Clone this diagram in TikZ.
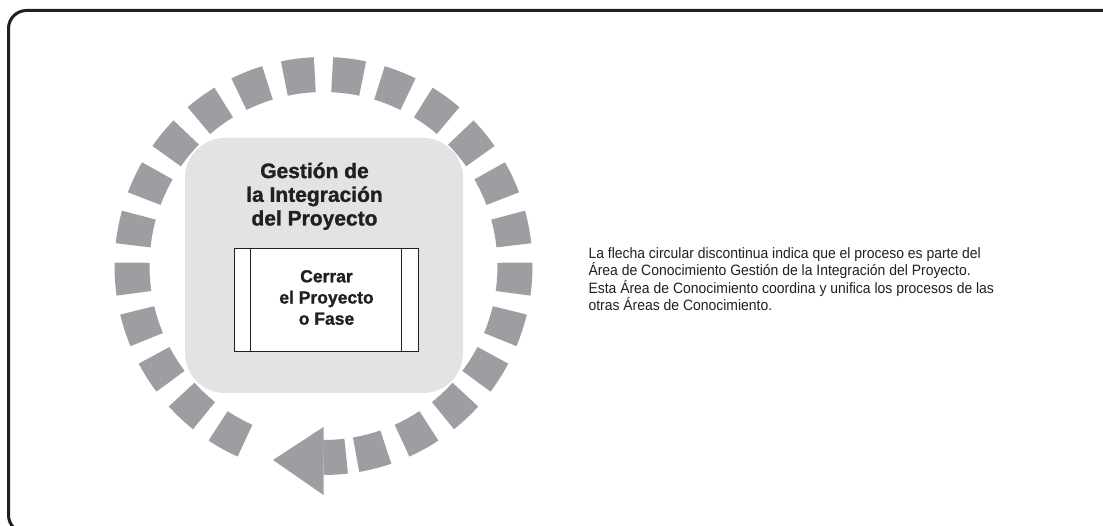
\documentclass[tikz,border=0pt]{standalone}
\usepackage{fontspec}
\setmainfont{Liberation Sans}
\newfontfamily\notefont{Liberation Sans}[FakeStretch=0.93]
\newfontfamily\headfont{Liberation Sans}[BoldFeatures={FakeBold=1.2}]
\usetikzlibrary{calc}
\definecolor{ink}{HTML}{231F20}
\definecolor{dashgray}{HTML}{9D9EA1}
\definecolor{boxgray}{HTML}{E2E3E4}
\tikzset{
  frameline/.style={draw=ink, line width=3pt, rounded corners=18pt},
  ringdash/.style={draw=dashgray, line width=35pt, line cap=butt},
  areabox/.style={fill=boxgray, draw=none, rounded corners=40pt, minimum width=278pt, minimum height=255pt, inner sep=0pt},
  procbox/.style={fill=white, draw=ink, line width=1pt, minimum width=184pt, minimum height=103pt, inner sep=0pt},
  headtext/.style={font=\headfont\fontsize{21}{23.7}\selectfont\bfseries, text=ink, align=center, inner sep=0pt},
  proctext/.style={font=\headfont\fontsize{17.5}{21.2}\selectfont\bfseries, text=ink, align=center, inner sep=0pt},
  notetext/.style={font=\notefont\fontsize{15}{16}\selectfont, text=ink, align=left, inner sep=0pt}
}
\begin{document}
\begin{tikzpicture}[x=1pt,y=1pt]
\useasboundingbox (0,0) rectangle (1103,525);
\begin{scope}
\clip (0,0) rectangle (1103,525);
\draw[frameline] (8.5,-8) rectangle (1125,514.5);
\end{scope}
\coordinate (c) at (323.5,259);
% dashed circular arrow
\foreach \a in {-75.6,-61.2,-46.8,-32.4,-18,-3.6,10.8,25.2,39.6,54,68.4,82.8,97.2,111.6,126,140.4,154.8,169.2,183.6,198,212.4,226.8,241.2}{
  \draw[ringdash] ($(c)+(\a-4.6:191.5)$) arc[start angle=\a-4.6, end angle=\a+4.6, radius=191.5];
}
\draw[ringdash] ($(c)+(-90:191.5)$) arc[start angle=-90, end angle=-83.2, radius=191.5];
\coordinate (hb1) at ($(c)+(0,-161)$);
\coordinate (hb2) at ($(c)+(0,-229)$);
\coordinate (tip) at ($(c)+(-50.5,-194)$);
\fill[dashgray] (hb1) -- (hb2) -- (tip) -- cycle;
% area box
\node[areabox] (area) at (324,259.5) {};
\node[headtext, anchor=north] (head) at (314.5,362.5) {Gestión de\\la Integración\\del Proyecto};
% process box
\node[procbox] (proc) at (326,224.5) {};
\draw[ink, line width=1pt] ($(proc.north west)+(17,0)$) -- ($(proc.south west)+(17,0)$);
\draw[ink, line width=1pt] ($(proc.north east)+(-17,0)$) -- ($(proc.south east)+(-17,0)$);
\node[proctext, anchor=north] (ptext) at (326.5,255.1) {Cerrar\\el Proyecto\\o Fase};
% note
\node[notetext, anchor=north west] (note) at (588.3,277.2) {La flecha circular discontinua indica que el proceso es parte del\\Área de Conocimiento Gestión de la Integración del Proyecto.\\Esta Área de Conocimiento coordina y unifica los procesos de las\\otras Áreas de Conocimiento.};
\end{tikzpicture}
\end{document}
